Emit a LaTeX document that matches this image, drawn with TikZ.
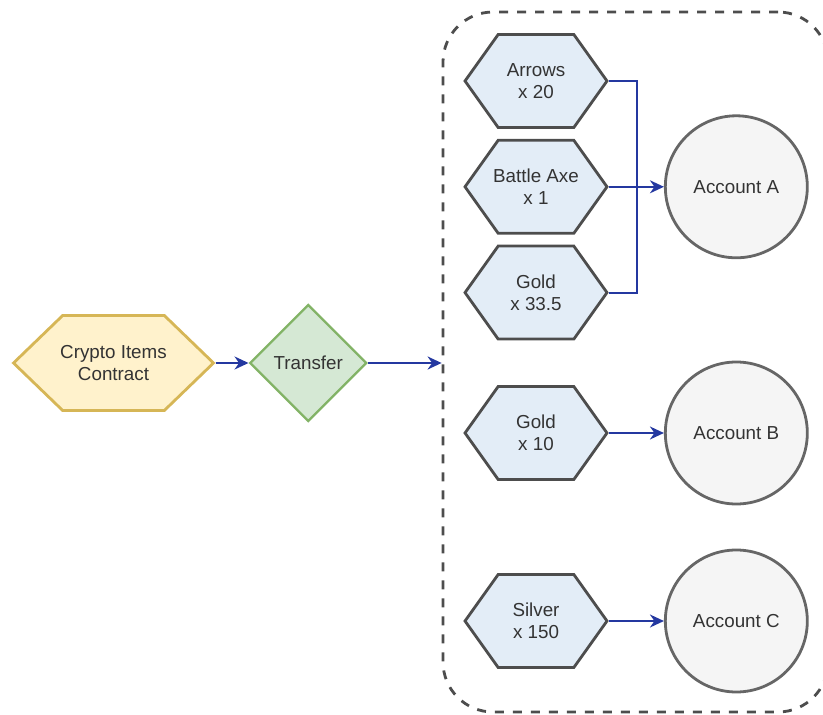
\documentclass[tikz,border=0pt]{standalone}
\usepackage{fontspec}
\setmainfont{Liberation Sans}
\usetikzlibrary{positioning, shapes.symbols, shapes.geometric, arrows.meta}

\definecolor{cryptofill}{HTML}{FFF2CC}
\definecolor{cryptoline}{HTML}{D6B656}
\definecolor{transferfill}{HTML}{D5E8D4}
\definecolor{transferline}{HTML}{82B366}
\definecolor{itemfill}{HTML}{E3EDF7}
\definecolor{itemline}{HTML}{4D4D4D}
\definecolor{accountfill}{HTML}{F5F5F5}
\definecolor{accountline}{HTML}{666666}
\definecolor{flowblue}{HTML}{2438A0}
\definecolor{txtgray}{HTML}{333333}

\begin{document}
\begin{tikzpicture}[x=0.5pt, y=-0.5pt,
                font=\fontsize{9.4}{11}\selectfont, text=txtgray,
                contracthex/.style={signal, signal to=east and west, signal pointer angle=88, draw=cryptoline, fill=cryptofill, line width=1.4pt, minimum width=100pt, minimum height=47.5pt, inner ysep=0pt, inner xsep=-14pt, align=center},
                transferdia/.style={diamond, aspect=1, draw=transferline, fill=transferfill, line width=1.2pt, minimum size=58.5pt, inner sep=0pt},
                itemhex/.style={signal, signal to=east and west, signal pointer angle=109, draw=itemline, fill=itemfill, line width=1.4pt, minimum width=71pt, minimum height=46.5pt, inner ysep=0pt, inner xsep=-10pt, align=center},
                accountnode/.style={circle, draw=accountline, fill=accountfill, line width=1.4pt, minimum size=71pt, inner sep=0pt},
                itembox/.style={rectangle, draw=itemline, dash pattern=on 4.5pt off 4.5pt, line width=1.4pt, rounded corners=25pt, minimum width=192.5pt, minimum height=350pt},
                flow/.style={draw=flowblue, line width=1pt, -{Stealth[length=7pt, width=6.5pt]}},
                flowline/.style={draw=flowblue, line width=1pt},
                ]
                \clip (0,0) rectangle (823,715);
                %Box
                \node[itembox]     (items)    at (635.5,362) {};
                %Nodes
                \node[contracthex] (crypto)   at (113.5,363) {Crypto Items\\Contract};
                \node[transferdia] (transfer) [right=16.5pt of crypto] {Transfer};
                \node[itemhex]     (arrows)   at (536,81) {Arrows\\x 20};
                \node[itemhex]     (axe)      [below=5pt of arrows] {Battle Axe\\x 1};
                \node[itemhex]     (golda)    [below=5pt of axe] {Gold\\x 33.5};
                \node[itemhex]     (goldb)    at (536,433) {Gold\\x 10};
                \node[itemhex]     (silver)   at (536,621) {Silver\\x 150};
                \node[accountnode] (accA)     [right=27.6pt of axe] {Account A};
                \node[accountnode] (accB)     [right=27.6pt of goldb] {Account B};
                \node[accountnode] (accC)     [right=27.6pt of silver] {Account C};
                \coordinate[right=14pt of axe.east] (join);

                %Lines
                \draw[flow] (crypto.east) -- (transfer.west);
                \draw[flow] (transfer.east) -- (transfer.east -| items.west);
                \draw[flowline] (arrows.east) -| (join);
                \draw[flowline] (golda.east) -| (join);
                \draw[flow] (axe.east) -- (accA.west);
                \draw[flow] (goldb.east) -- (accB.west);
                \draw[flow] (silver.east) -- (accC.west);
\end{tikzpicture}
\end{document}
